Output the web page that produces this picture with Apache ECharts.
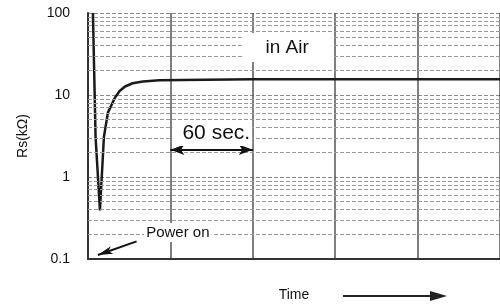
<!DOCTYPE html>
<html>
<head>
<meta charset="utf-8">
<script src="https://cdn.jsdelivr.net/npm/echarts@6/dist/echarts.min.js"></script>
<style>
  html, body { margin: 0; padding: 0; background: #fff; }
  #chart { width: 500px; height: 307px; }
</style>
</head>
<body>
<div id="chart"></div>
<script>
// sensor resistance after power on
const timeSec = [3.6, 5.5, 8.7, 11.6, 14.5, 19.5, 23, 27, 32.5, 40, 52, 120, 300];
const rsKohm = [100, 3.1, 0.39, 3.1, 6.1, 9.2, 11.2, 12.7, 13.9, 14.6, 15.1, 15.6, 15.6];

// log paper rulings
const gridValues = [0.2, 0.3, 0.4, 0.5, 0.6, 0.7, 0.8, 0.9,
  2, 3, 4, 5, 6, 7, 8, 9, 20, 30, 40, 50, 60, 70, 80, 90];

const fontFamily = 'Liberation Sans, Arial, sans-serif';

const chartDom = document.getElementById('chart');
const myChart = echarts.init(chartDom);

const option = {
  animation: false,
  textStyle: { fontFamily: fontFamily },
  grid: { left: 88, right: -3, top: 13, bottom: 42 },
  xAxis: {
    type: 'value',
    min: 0,
    max: 300,
    interval: 60,
    name: 'Time',
    nameLocation: 'middle',
    nameGap: 29,
    nameTextStyle: { fontSize: 14, color: '#111' },
    axisLine: { show: true, lineStyle: { color: '#333', width: 2 } },
    axisTick: { show: false },
    axisLabel: { show: false },
    splitLine: { show: true, lineStyle: { color: '#555', width: 1.5 } },
  },
  yAxis: {
    type: 'log',
    logBase: 10,
    min: 0.1,
    max: 100,
    name: 'Rs(kΩ)',
    nameLocation: 'middle',
    nameRotate: 90,
    nameGap: 58,
    nameTextStyle: { fontSize: 14, color: '#111' },
    axisLine: { show: true, lineStyle: { color: '#333', width: 2 } },
    axisTick: { show: false },
    axisLabel: { fontSize: 14, color: '#111', margin: 18 },
    splitLine: { show: true, lineStyle: { color: '#888', type: 'dashed', width: 1 } },
  },
  graphic: [
    { type: 'line', shape: { x1: 343, y1: 296, x2: 432, y2: 296 },
      style: { stroke: '#222', lineWidth: 2 } },
    { type: 'polygon', shape: { points: [[430, 291], [447, 296], [430, 301]] },
      style: { fill: '#222' } },
  ],
  series: [
    {
      // horizontal rulings of the log paper
      type: 'line',
      data: [],
      z: 1,
      markLine: {
        silent: true,
        symbol: 'none',
        label: { show: false },
        lineStyle: { color: '#999', type: 'dashed', width: 1 },
        data: gridValues.map((v) => ({ yAxis: v })),
      },
    },
    {
      name: 'Rs',
      type: 'line',
      data: timeSec.map((t, i) => [t, rsKohm[i]]),
      z: 3,
      symbol: 'none',
      lineStyle: { color: '#1a1a1a', width: 2.5 },
    },
    {
      // annotations
      type: 'line',
      data: [],
      z: 5,
      markPoint: {
        symbol: 'circle',
        symbolSize: 1,
        itemStyle: { color: 'rgba(0,0,0,0)' },
        label: {
          show: true,
          position: 'inside',
          formatter: (p) => p.name,
          color: '#111',
          fontFamily: fontFamily,
        },
        data: [
          { name: 'in Air', coord: [145, 38],
            label: { fontSize: 19, backgroundColor: '#fff', padding: [5, 23] } },
          { name: '60 sec.', coord: [90.5, 3.4],
            label: { fontSize: 21, backgroundColor: '#fff', padding: [2, 2, 2, 10] } },
          { name: 'Power on', coord: [65.4, 0.21],
            label: { fontSize: 15, backgroundColor: '#fff', padding: [2, 2] } },
        ],
      },
      markLine: {
        silent: true,
        label: { show: false },
        lineStyle: { color: '#111', type: 'solid', width: 2 },
        data: [
          [{ coord: [60, 2.15], symbol: 'arrow', symbolSize: [8, 14] },
            { coord: [120, 2.15], symbol: 'arrow', symbolSize: [8, 14] }],
          [{ coord: [35.4, 0.164], symbol: 'none' },
            { coord: [7.2, 0.112], symbol: 'arrow', symbolSize: [6, 15] }],
        ],
      },
    },
  ],
};

myChart.setOption(option);

window.addEventListener('resize', function () {
  myChart.resize();
});
</script>
</body>
</html>
